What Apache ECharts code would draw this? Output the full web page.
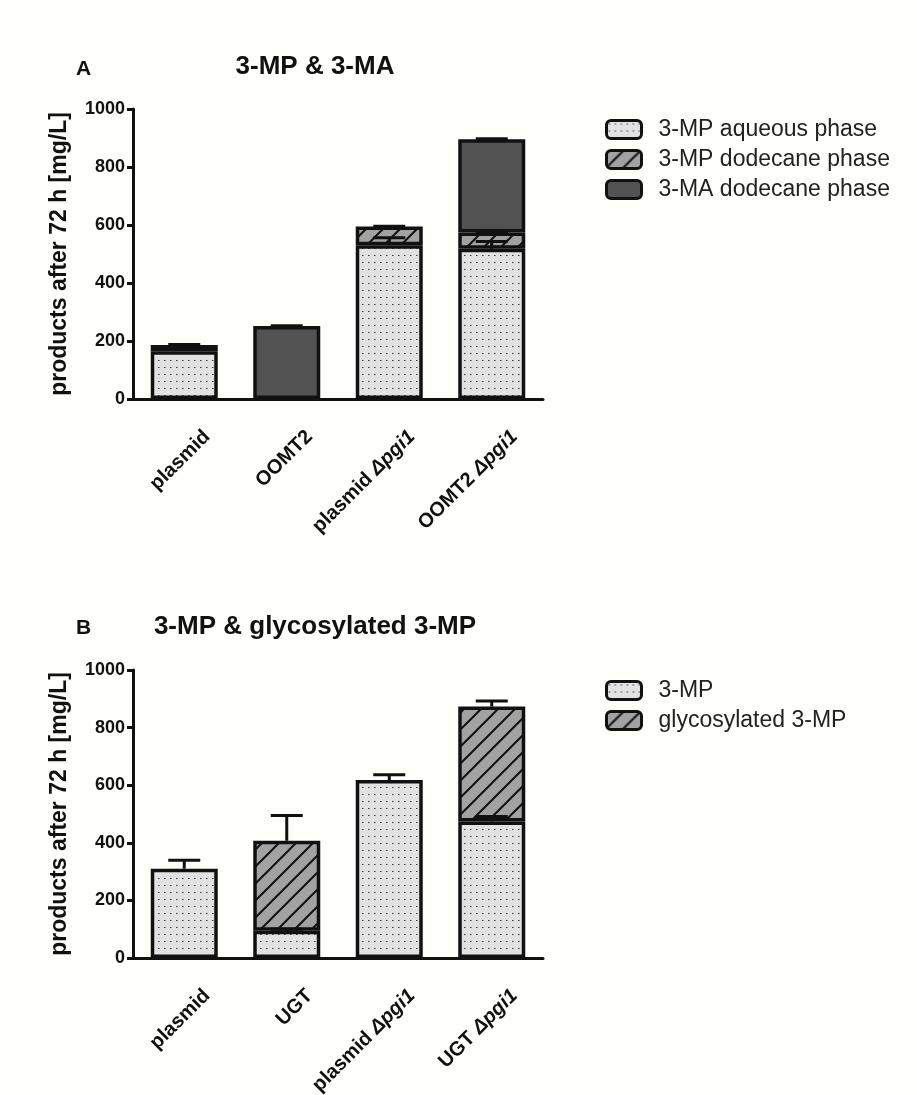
<!DOCTYPE html>
<html>
<head>
<meta charset="utf-8">
<script src="https://cdn.jsdelivr.net/npm/echarts@6/dist/echarts.min.js"></script>
<style>
html,body{margin:0;padding:0;background:#fefefb;}
#chart{width:917px;height:1095px;}
</style>
</head>
<body>
<div id="chart"></div>
<script>
// ---- data ----
const categoriesA = ['plasmid', 'OOMT2', 'plasmid Δpgi1', 'OOMT2 Δpgi1'];
const mpAqueousA = [165, 0, 530, 518];
const mpAqueousErrA = [6, 0, 26, 25];
const mpDodecaneA = [21, 0, 65, 56];
const mpDodecaneErrA = [2, 0, 1, 3];
const maDodecaneA = [0, 252, 0, 322];
const maDodecaneErrA = [0, 1, 0, 1];

const categoriesB = ['plasmid', 'UGT', 'plasmid Δpgi1', 'UGT Δpgi1'];
const mpB = [310, 95, 618, 474];
const mpErrB = [29, 5, 18, 17];
const glycoB = [0, 312, 0, 399];
const glycoErrB = [0, 88, 0, 19];

const yTicks = [0, 200, 400, 600, 800, 1000];

// ---- patterns ----
function dotPattern() {
  const c = document.createElement('canvas');
  c.width = 6; c.height = 7;
  const g = c.getContext('2d');
  g.fillStyle = '#e2e2e2'; g.fillRect(0, 0, 6, 7);
  g.fillStyle = '#3a3a3a'; g.fillRect(2, 3, 1, 1);
  g.fillStyle = '#8a8a8a'; g.fillRect(3, 3, 1, 1);
  return { image: c, repeat: 'repeat' };
}
function hatchPattern() {
  const s = 17;
  const c = document.createElement('canvas');
  c.width = s; c.height = s;
  const g = c.getContext('2d');
  g.fillStyle = '#a2a2a2'; g.fillRect(0, 0, s, s);
  g.strokeStyle = '#111'; g.lineWidth = 2;
  g.beginPath();
  g.moveTo(-2, s + 2); g.lineTo(s + 2, -2);
  g.moveTo(-2, 2); g.lineTo(2, -2);
  g.moveTo(s - 2, s + 2); g.lineTo(s + 2, s - 2);
  g.stroke();
  return { image: c, repeat: 'repeat' };
}
const DOT = dotPattern();
const HATCH = hatchPattern();
const DARK = '#525252';

const FONT = '"Liberation Sans", Arial, sans-serif';
const nz = arr => arr.map(v => (v === 0 ? '-' : v));

function labelFmt(v) {
  const i = v.indexOf('Δ');
  if (i < 0) return '{n|' + v + '}';
  return '{n|' + v.slice(0, i) + '}{i|' + v.slice(i) + '}';
}

function xAxis(idx, cats) {
  return {
    type: 'category', gridIndex: idx, data: cats,
    axisLine: { lineStyle: { color: '#111', width: 3 } },
    axisTick: { alignWithLabel: true, length: 7, lineStyle: { color: '#111', width: 3 } },
    axisLabel: {
      rotate: 45, margin: 12, verticalAlign: 'top', interval: 0, padding: [22, 0, 0, 0],
      formatter: labelFmt,
      rich: {
        n: { fontFamily: FONT, fontWeight: 'bold', fontSize: 20, color: '#111' },
        i: { fontFamily: FONT, fontWeight: 'bold', fontStyle: 'italic', fontSize: 20, color: '#111' }
      }
    }
  };
}
function yAxis(idx) {
  return {
    type: 'value', gridIndex: idx, min: yTicks[0], max: yTicks[yTicks.length - 1],
    interval: yTicks[1] - yTicks[0],
    name: 'products after 72 h [mg/L]', nameLocation: 'middle', nameGap: 62,
    nameTextStyle: { fontFamily: FONT, fontWeight: 'bold', fontSize: 23, color: '#111' },
    axisLine: { show: true, lineStyle: { color: '#111', width: 3 } },
    axisTick: { show: true, length: 6, lineStyle: { color: '#111', width: 3 } },
    axisLabel: { fontFamily: FONT, fontWeight: 'bold', fontSize: 18, color: '#111', margin: 8,
      formatter: v => String(v) },
    splitLine: { show: false }
  };
}
function bar(name, data, idx, color) {
  return {
    type: 'bar', name: name, data: nz(data), stack: 's' + idx,
    xAxisIndex: idx, yAxisIndex: idx, barWidth: 67,
    itemStyle: { color: color, borderColor: '#111', borderWidth: 3.5 },
    emphasis: { disabled: true }
  };
}
function errSeries(idx, bases, errs) {
  const data = [];
  errs.forEach((e, i) => { if (e > 0) data.push([i, bases[i], e]); });
  return {
    type: 'custom', xAxisIndex: idx, yAxisIndex: idx, z: 10, silent: true,
    data: data,
    renderItem: function (params, api) {
      const x = api.value(0), b = api.value(1), e = api.value(2);
      const p0 = api.coord([x, b]);
      const p1 = api.coord([x, b + e]);
      const st = { stroke: '#111', lineWidth: 3 };
      return {
        type: 'group', children: [
          { type: 'line', shape: { x1: p0[0], y1: p0[1], x2: p1[0], y2: p1[1] }, style: st },
          { type: 'line', shape: { x1: p1[0] - 16, y1: p1[1], x2: p1[0] + 16, y2: p1[1] }, style: st }
        ]
      };
    }
  };
}
const add = (a, b) => a.map((v, i) => v + b[i]);
const topAq = mpAqueousA;
const topDod = add(mpAqueousA, mpDodecaneA);
const topMa = add(topDod, maDodecaneA);
const topMpB = mpB;
const topGlyB = add(mpB, glycoB);

const legendCommon = {
  orient: 'vertical', left: 600, itemWidth: 35, itemHeight: 18, itemGap: 7,
  icon: 'roundRect',
  itemStyle: { borderColor: '#111', borderWidth: 3 },
  textStyle: { fontFamily: FONT, fontSize: 23, color: '#222', padding: [0, 0, 0, 12] },
  selectedMode: false
};

const option = {
  backgroundColor: '#fefefb',
  animation: false,
  title: [
    { text: 'A', left: 71, top: 54, textStyle: { fontFamily: FONT, fontWeight: 'bold', fontSize: 21, color: '#111' } },
    { text: '3-MP & 3-MA', left: 310, top: 49, textAlign: 'center', textStyle: { fontFamily: FONT, fontWeight: 'bold', fontSize: 26, color: '#111' } },
    { text: 'B', left: 71, top: 613, textStyle: { fontFamily: FONT, fontWeight: 'bold', fontSize: 21, color: '#111' } },
    { text: '3-MP & glycosylated 3-MP', left: 310, top: 609, textAlign: 'center', textStyle: { fontFamily: FONT, fontWeight: 'bold', fontSize: 26, color: '#111' } }
  ],
  legend: [
    Object.assign({}, legendCommon, { top: 113, data: ['3-MP aqueous phase', '3-MP dodecane phase', '3-MA dodecane phase'] }),
    Object.assign({}, legendCommon, { top: 674, data: ['3-MP', 'glycosylated 3-MP'] })
  ],
  grid: [
    { left: 133, top: 109, width: 410, height: 290, outerBoundsMode: 'none', containLabel: false },
    { left: 133, top: 670, width: 410, height: 288, outerBoundsMode: 'none', containLabel: false }
  ],
  xAxis: [xAxis(0, categoriesA), xAxis(1, categoriesB)],
  yAxis: [yAxis(0), yAxis(1)],
  series: [
    bar('3-MP aqueous phase', mpAqueousA, 0, DOT),
    bar('3-MP dodecane phase', mpDodecaneA, 0, HATCH),
    bar('3-MA dodecane phase', maDodecaneA, 0, DARK),
    errSeries(0, topAq, mpAqueousErrA),
    errSeries(0, topDod, mpDodecaneErrA),
    errSeries(0, topMa, maDodecaneErrA),
    bar('3-MP', mpB, 1, DOT),
    bar('glycosylated 3-MP', glycoB, 1, HATCH),
    errSeries(1, topMpB, mpErrB),
    errSeries(1, topGlyB, glycoErrB)
  ]
};
const chart = echarts.init(document.getElementById('chart'), null, { renderer: 'canvas' });
chart.setOption(option);
</script>
</body>
</html>
